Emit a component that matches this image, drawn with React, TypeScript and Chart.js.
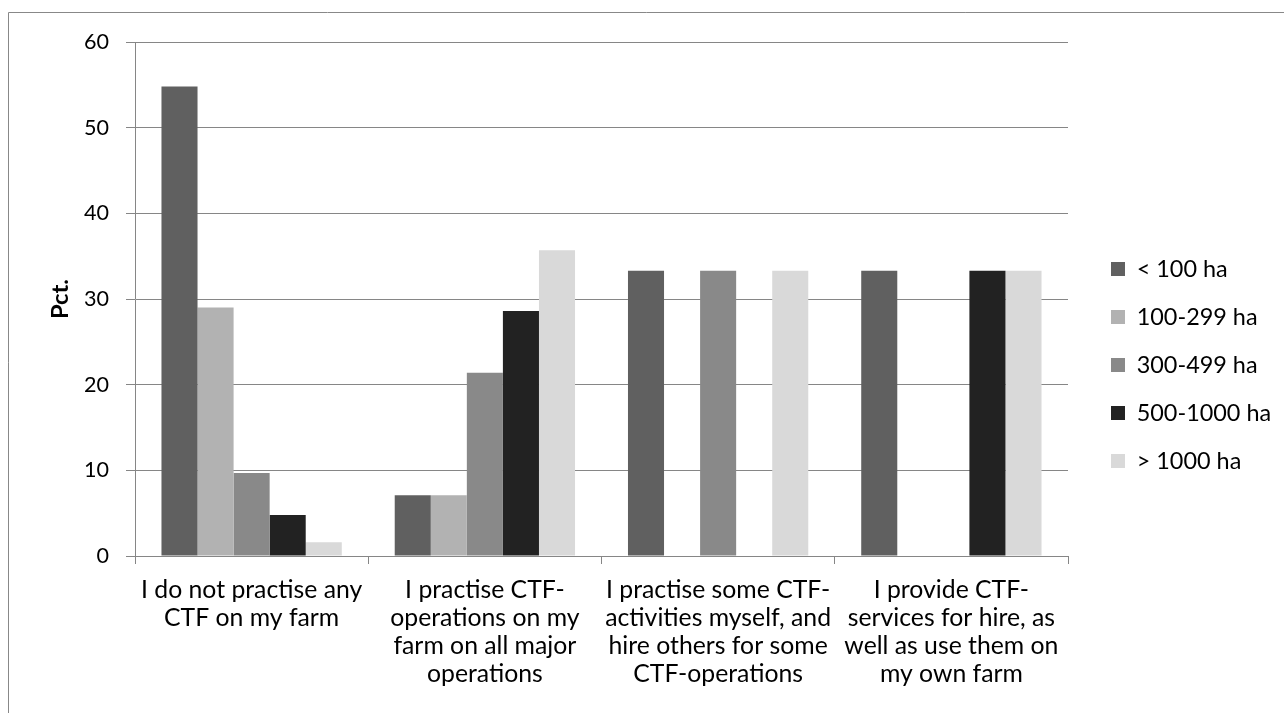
import React, { useEffect, useRef } from "react";
import { Chart, registerables } from "chart.js";

Chart.register(...registerables);

// ---- data ----
const categories: string[][] = [
  ["I do not practise any", "CTF on my farm"],
  ["I practise CTF-", "operations on my", "farm on all major", "operations"],
  ["I practise some CTF-", "activities myself, and", "hire others for some", "CTF-operations"],
  ["I provide CTF-", "services for hire, as", "well as use them on", "my own farm"],
];
const seriesNames = ["< 100 ha", "100-299 ha", "300-499 ha", "500-1000 ha", "> 1000 ha"];
const under100 = [54.8, 7.1, 33.3, 33.3];
const ha100to299 = [29.0, 7.1, 0, 0];
const ha300to499 = [9.7, 21.4, 33.3, 0];
const ha500to1000 = [4.8, 28.6, 0, 33.3];
const over1000 = [1.6, 35.7, 33.3, 33.3];
const yMin = 0;
const yMax = 60;
const yStep = 10;
const yTitle = "Pct.";

const seriesColors = ["#606060", "#b2b2b2", "#898989", "#222222", "#d9d9d9"];
const FAMILY = "Lato, 'Open Sans', sans-serif";
const LINE = "#868686";

function measure(text: string, size: number, weight = "normal"): number {
  const c = document.createElement("canvas").getContext("2d")!;
  c.font = `${weight} ${size}px ${FAMILY}`;
  return c.measureText(text).width;
}
function fitSize(text: string, target: number, weight = "normal"): number {
  const w = measure(text, 100, weight) || 100;
  return (100 * target) / w;
}

export default function App() {
  const ref = useRef<HTMLCanvasElement | null>(null);

  useEffect(() => {
    if (!ref.current) return;
    const xSize = fitSize("activities myself, and", 226);
    const legSize = fitSize("< 100 ha", 91);
    const ySize = fitSize("60", 25);
    const tSize = fitSize("Pct.", 40, "bold");
    const legPad = 48 - legSize;
    const boxW = 14;
    const maxText = Math.max(...seriesNames.map((s) => measure(s, legSize)));
    const legMaxW = Math.ceil(legPad + boxW + legSize / 2 + maxText + 5);
    const boxX = 1111;
    const legLeft = boxX - legPad;
    const dummyW = legLeft - 1068;
    const padRight = Math.max(0, 1284 - legMaxW - legLeft);

    const borderPlugin = {
      id: "outerBorder",
      beforeDraw(chart: any) {
        const ctx = chart.ctx;
        ctx.save();
        ctx.strokeStyle = "#888888";
        ctx.lineWidth = 1;
        ctx.beginPath();
        ctx.moveTo(8.5, 713);
        ctx.lineTo(8.5, 12.5);
        ctx.lineTo(1284, 12.5);
        ctx.stroke();
        ctx.restore();
      },
    };

    const values = [under100, ha100to299, ha300to499, ha500to1000, over1000];
    const chart = new Chart(ref.current, {
      type: "bar",
      data: {
        labels: categories,
        datasets: seriesNames.map((name, i) => ({
          label: name,
          data: values[i],
          backgroundColor: seriesColors[i],
          borderWidth: 0,
          categoryPercentage: 0.773,
          barPercentage: 1,
          yAxisID: "y",
        })),
      },
      options: {
        animation: false,
        responsive: false,
        devicePixelRatio: 1,
        layout: { padding: { left: 0, top: 42, bottom: 25, right: padRight } },
        plugins: {
          legend: {
            position: "right",
            align: "center",
            maxWidth: legMaxW,
            labels: {
              boxWidth: boxW,
              boxHeight: boxW,
              padding: legPad,
              color: "#000",
              font: { family: FAMILY, size: legSize },
            },
          },
          tooltip: { enabled: false },
          title: { display: false },
        },
        scales: {
          x: {
            grid: {
              display: true,
              offset: true,
              drawOnChartArea: false,
              drawTicks: true,
              tickLength: 8,
              color: LINE,
            },
            border: { display: true, color: LINE },
            ticks: {
              autoSkip: false,
              maxRotation: 0,
              minRotation: 0,
              padding: 12,
              color: "#000",
              font: { family: FAMILY, size: xSize, lineHeight: 28 / xSize },
            },
            afterFit(scale: any) {
              scale.height = 132;
            },
          },
          y: {
            position: "left",
            min: yMin,
            max: yMax,
            ticks: {
              stepSize: yStep,
              padding: 17,
              color: "#000",
              font: { family: FAMILY, size: ySize },
            },
            grid: { color: LINE, tickLength: 9, drawTicks: true },
            border: { display: true, color: LINE },
            title: {
              display: true,
              text: yTitle,
              color: "#000",
              font: { family: FAMILY, size: tSize, weight: "bold" },
              padding: { top: 60 - tSize * 0.6, bottom: 0 },
            },
            afterFit(scale: any) {
              scale.width = 135;
            },
          },
          spacer: {
            type: "linear",
            position: "right",
            display: true,
            grid: { display: false },
            border: { display: false },
            ticks: { display: false },
            afterFit(scale: any) {
              scale.width = dummyW;
            },
          },
        },
      },
      plugins: [borderPlugin],
    } as any);
    return () => chart.destroy();
  }, []);

  return (
    <div style={{ position: "absolute", left: 0, top: 0, width: 1284, height: 713, background: "#fff" }}>
      <canvas ref={ref} width={1284} height={713} style={{ display: "block" }} />
    </div>
  );
}
